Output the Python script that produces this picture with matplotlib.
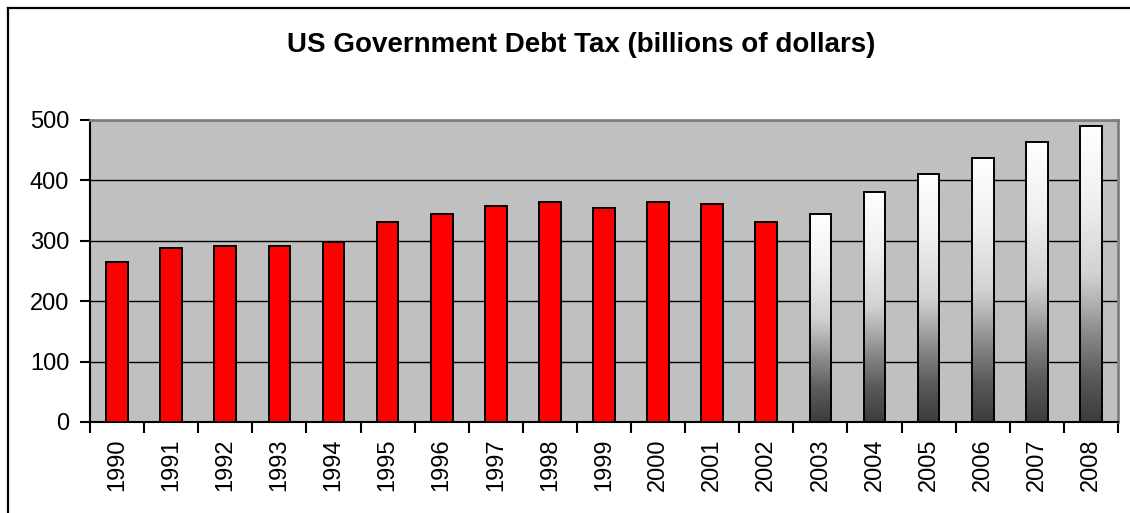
import numpy as np
import matplotlib
matplotlib.use("Agg")
import matplotlib.pyplot as plt
from matplotlib.colors import LinearSegmentedColormap
from matplotlib.lines import Line2D

plt.rcParams['font.family'] = ['Liberation Sans', 'DejaVu Sans']

# Data
years = [str(y) for y in range(1990, 2009)]
actual_years = years[:13]          # 1990-2002
actual_values = [265, 288, 292, 292, 298, 331, 344, 358, 364, 354, 364, 361, 331]
projected_years = years[13:]       # 2003-2008
projected_values = [344, 381, 410, 437, 463, 490]
y_ticks = [0, 100, 200, 300, 400, 500]
title = "US Government Debt Tax (billions of dollars)"

W, H = 1130, 513
fig = plt.figure(figsize=(W / 100, H / 100), dpi=100)
fig.patch.set_facecolor("white")

# Outer chart frame (runs off the right and bottom edges)
fig.add_artist(Line2D([8 / W, 8 / W], [0, 1 - 8 / H], color="black", lw=1.6,
                      transform=fig.transFigure))
fig.add_artist(Line2D([8 / W, 1], [1 - 8 / H, 1 - 8 / H], color="black", lw=1.6,
                      transform=fig.transFigure))

left, right, top, bottom = 90, 1118, 120, 422
ax = fig.add_axes([left / W, 1 - bottom / H, (right - left) / W, (bottom - top) / H])
ax.set_facecolor("#c0c0c0")

x = np.arange(len(years))
bar_w = 0.4
idx = {y: i for i, y in enumerate(years)}

# Solid red bars
xa = [idx[y] for y in actual_years]
ax.bar(xa, actual_values, width=bar_w, color="#ff0000", edgecolor="black",
       linewidth=1.4, zorder=3)

# Gradient-filled bars (white at top, dark grey at the base)
grad_cmap = LinearSegmentedColormap.from_list(
    "grey_fade",
    [(0.0, "#3c3c3c"), (0.15, "#5a5a5a"), (0.3, "#8a8a8a"), (0.4, "#b0b0b0"),
     (0.5, "#d2d2d2"), (0.75, "#f0f0f0"), (1.0, "#ffffff")])
grad = np.linspace(0, 1, 1024).reshape(-1, 1)
xp = [idx[y] for y in projected_years]
for xi, v in zip(xp, projected_values):
    ax.imshow(grad, cmap=grad_cmap, origin="lower", aspect="auto",
              extent=[xi - bar_w / 2, xi + bar_w / 2, 0, v], zorder=2,
              interpolation="bicubic")
ax.bar(xp, projected_values, width=bar_w, facecolor="none", edgecolor="black",
       linewidth=1.4, zorder=3)

ax.set_xlim(-0.5, len(years) - 0.5)
ax.set_ylim(0, 500)

# Gridlines
ax.set_yticks(y_ticks)
ax.yaxis.grid(True, color="black", linewidth=1.0)
ax.set_axisbelow(True)

# Category labels at bar centres, tick marks at category boundaries
ax.set_xticks(x)
ax.set_xticklabels(years, rotation=90, fontsize=17)
ax.set_xticks(np.arange(-0.5, len(years), 1.0), minor=True)
ax.tick_params(axis="x", which="major", length=0, pad=12)
ax.tick_params(axis="x", which="minor", length=8, width=1.5, color="black",
               direction="out")
ax.tick_params(axis="y", length=7, width=1.5, direction="out", pad=8,
               labelsize=17)

for side in ("left", "bottom"):
    ax.spines[side].set_color("black")
    ax.spines[side].set_linewidth(1.5)
for side in ("top", "right"):
    ax.spines[side].set_color("#808080")
    ax.spines[side].set_linewidth(2.0)

fig.text(581 / W, 1 - 52 / H, title, ha="center", va="baseline",
         fontsize=20, fontweight="bold")

fig.savefig("out.png", dpi=100)
